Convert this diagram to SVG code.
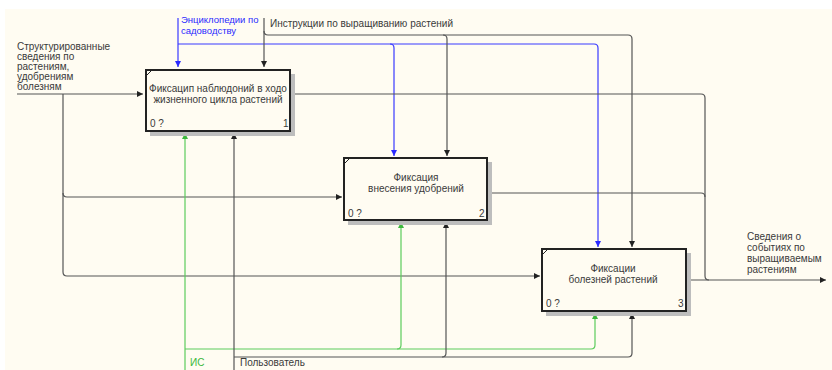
<svg xmlns="http://www.w3.org/2000/svg" width="832" height="370" viewBox="0 0 832 370">
<defs>
<marker id="ak" markerUnits="userSpaceOnUse" markerWidth="7" markerHeight="7" refX="6" refY="3" orient="auto"><path d="M0,0 L6,3 L0,6 z" fill="#222"/></marker>
<marker id="ab" markerUnits="userSpaceOnUse" markerWidth="7" markerHeight="7" refX="6" refY="3" orient="auto"><path d="M0,0 L6,3 L0,6 z" fill="#2a2aff"/></marker>
<marker id="ag" markerUnits="userSpaceOnUse" markerWidth="7" markerHeight="7" refX="6" refY="3" orient="auto"><path d="M0,0 L6,3 L0,6 z" fill="#3cb83c"/></marker>
<style>
text{font-family:"Liberation Sans",Arial,sans-serif;font-size:10px;fill:#3a3a3a}
.c{text-anchor:middle}
.box{fill:#fffcf2;stroke:#222;stroke-width:2}
.sh{fill:#bdbdbd}
.k{fill:none;stroke:#555;stroke-width:1.2}
.b{fill:none;stroke:#3a3aff;stroke-width:1.2}
.g{fill:none;stroke:#5ccc5c;stroke-width:1.2}
.tick{stroke:#222;stroke-width:1}
</style>
</defs>
<rect x="0" y="0" width="832" height="370" fill="#ffffff"/>
<rect x="5" y="9" width="827" height="361" fill="#fffcf2"/>

<g id="connectors">
<path class="b" d="M178,18 V67" marker-end="url(#ab)"/>
<path class="b" d="M178,44 H594 Q598,44 598,48 V247" marker-end="url(#ab)"/>
<path class="b" d="M390,44 Q394,44 394,48 V156" marker-end="url(#ab)"/>
<path class="k" d="M264,18 V67" marker-end="url(#ak)"/>
<path class="k" d="M264,31 Q264,35 268,35 H628 Q632,35 632,39 V247" marker-end="url(#ak)"/>
<path class="k" d="M443,35 Q447,35 447,39 V156" marker-end="url(#ak)"/>
<path class="k" d="M17,94 H143" marker-end="url(#ak)"/>
<path class="k" d="M63,94 V272 Q63,276 67,276 H540" marker-end="url(#ak)"/>
<path class="k" d="M63,193 Q63,197 67,197 H342" marker-end="url(#ak)"/>
<path class="k" d="M290,94 H701 Q705,94 705,98 V276 Q705,280 709,280"/>
<path class="k" d="M487,193 H701 Q705,193 705,197"/>
<path class="k" d="M686,280 H826" marker-end="url(#ak)"/>
<path class="g" d="M185,370 V133" marker-end="url(#ag)"/>
<path class="g" d="M185,349 H591 Q595,349 595,345 V313" marker-end="url(#ag)"/>
<path class="g" d="M397,349 Q401,349 401,345 V222" marker-end="url(#ag)"/>
<path class="k" d="M234,370 V133" marker-end="url(#ak)"/>
<path class="k" d="M234,357 H628 Q632,357 632,353 V313" marker-end="url(#ak)"/>
<path class="k" d="M442,357 Q446,357 446,353 V222" marker-end="url(#ak)"/>
</g>

<g id="labels">
<text x="17" y="50">Структурированные</text>
<text x="17" y="60">сведения по</text>
<text x="17" y="70">растениям,</text>
<text x="17" y="80">удобрениям</text>
<text x="17" y="90">болезням</text>
<text x="181" y="23" style="fill:#2a2aff;font-size:9.5px">Энциклопедии по</text>
<text x="181" y="34" style="fill:#2a2aff;font-size:9.5px">садоводству</text>
<text x="270" y="27">Инструкции по выращиванию растений</text>
<text x="747" y="240">Сведения о</text>
<text x="747" y="251">событиях по</text>
<text x="747" y="262">выращиваемым</text>
<text x="747" y="273">растениям</text>
<text x="190" y="366" style="fill:#3cb83c">ИС</text>
<text x="240" y="366">Пользователь</text>
</g>

<g id="box1">
<rect class="sh" x="150" y="74" width="145" height="62"/>
<rect class="box" x="146" y="70" width="144" height="61"/>
<line class="tick" x1="147" y1="75" x2="151" y2="71"/>
<text class="c" x="218" y="92">Фиксацип наблюдоний в ходо</text>
<text class="c" x="218" y="103">жизненного цикла растений</text>
<text x="150" y="127">0 ?</text>
<text x="283" y="127">1</text>
</g>

<g id="box2">
<rect class="sh" x="348" y="162" width="144" height="63"/>
<rect class="box" x="344" y="158" width="143" height="62"/>
<line class="tick" x1="345" y1="163" x2="349" y2="159"/>
<text class="c" x="416" y="181">Фиксация</text>
<text class="c" x="416" y="192">внесения удобрений</text>
<text x="348" y="217">0 ?</text>
<text x="479" y="217">2</text>
</g>

<g id="box3">
<rect class="sh" x="546" y="253" width="145" height="63"/>
<rect class="box" x="542" y="249" width="144" height="62"/>
<line class="tick" x1="543" y1="254" x2="547" y2="250"/>
<text class="c" x="613" y="272">Фиксации</text>
<text class="c" x="613" y="283">болезней растений</text>
<text x="546" y="307">0 ?</text>
<text x="678" y="307">3</text>
</g>
</svg>
